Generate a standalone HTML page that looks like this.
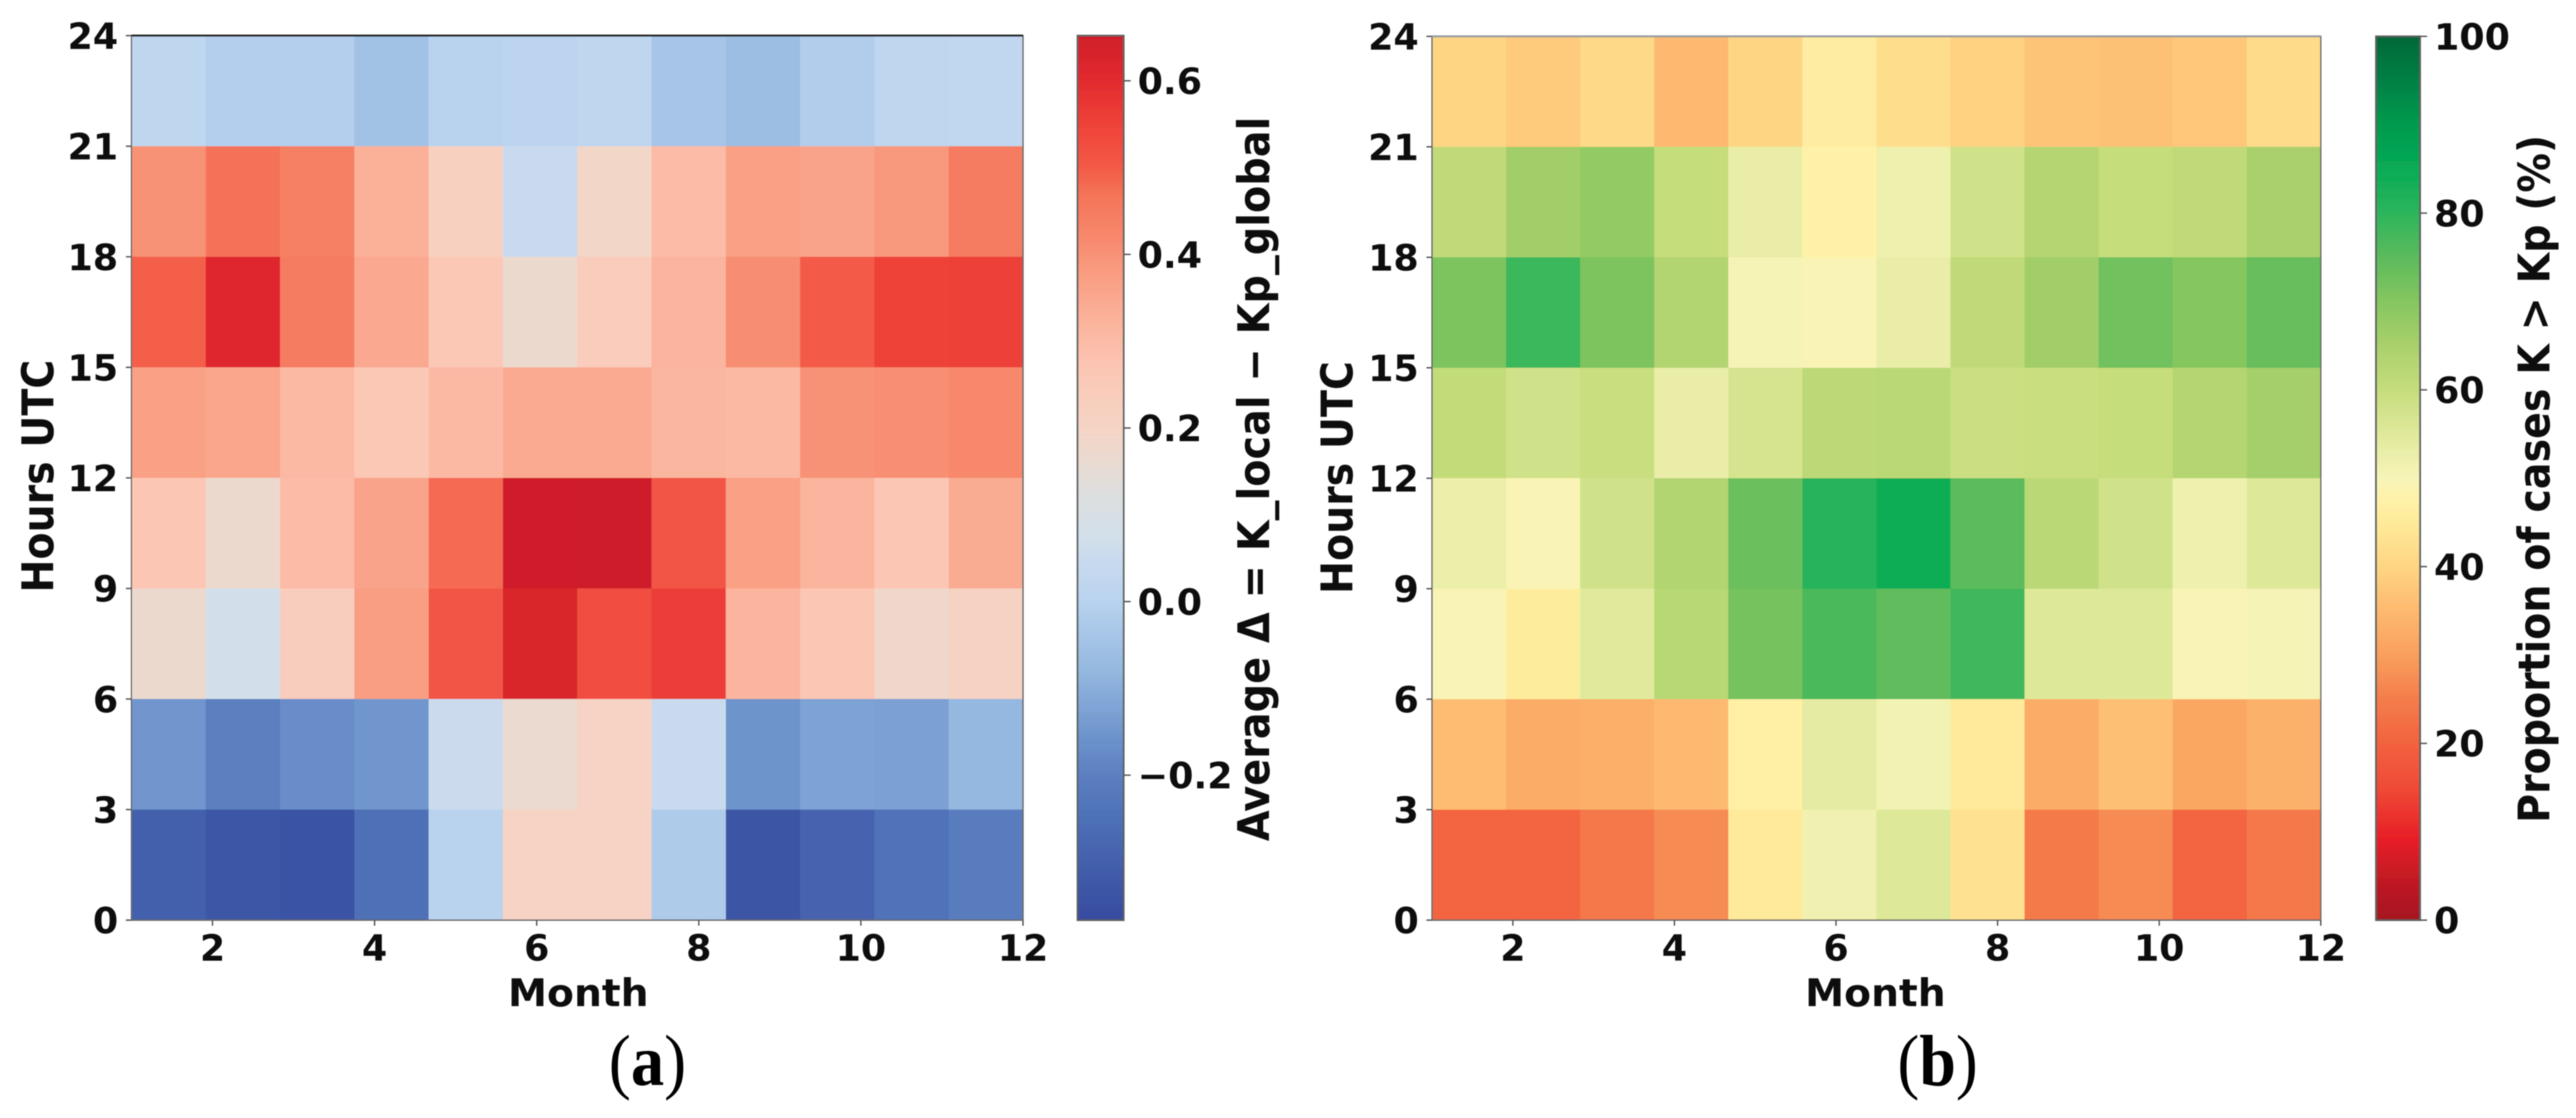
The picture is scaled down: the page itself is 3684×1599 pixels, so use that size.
<!DOCTYPE html>
<html lang="en">
<head>
<meta charset="utf-8">
<title>Heatmaps of K_local vs Kp_global by month and hour</title>
<style>
html,body{margin:0;padding:0;background:#fff;width:3684px;height:1599px;overflow:hidden}
svg{display:block}
text{font-family:"DejaVu Sans",sans-serif;font-weight:bold;fill:#0a0a0a}
.cap,.cap tspan{font-family:"Liberation Serif",serif;fill:#000}
</style>
</head>
<body>
<svg id="fig" xmlns="http://www.w3.org/2000/svg" width="3684" height="1599" viewBox="0 0 3684 1599">
<defs><filter id="soft" x="-5%" y="-5%" width="110%" height="110%"><feGaussianBlur stdDeviation="0.9"/></filter></defs>
<rect width="3684" height="1599" fill="#fff"/>
<g id="root" filter="url(#soft)"></g>
</svg>
<script>
// Rows run from the top of the chart (21-24 UTC) to the bottom (0-3 UTC); columns January to December.
const hourBinsTopDown = ['21-24','18-21','15-18','12-15','9-12','6-9','3-6','0-3'];
const monthTicks = [2,4,6,8,10,12];
const hourTicks = [0,3,6,9,12,15,18,21,24];

const deltaValues = [
 [.02,-.01,-.01,-.05,0,.01,.02,-.04,-.06,-.015,.02,.025],
 [.40,.47,.44,.33,.22,.05,.19,.30,.37,.36,.385,.45],
 [.495,.61,.45,.35,.26,.17,.24,.32,.41,.5,.55,.555],
 [.37,.355,.31,.26,.305,.345,.345,.315,.31,.40,.405,.42],
 [.27,.17,.3,.36,.48,.65,.652,.51,.37,.32,.27,.34],
 [.17,.07,.235,.375,.51,.625,.525,.56,.32,.27,.18,.21],
 [-.15,-.2,-.17,-.15,.055,.165,.205,.05,-.155,-.125,-.13,-.08],
 [-.3,-.33,-.345,-.255,0,.205,.205,-.02,-.335,-.29,-.245,-.21]
];
const deltaTicks = [-0.2,0,0.2,0.4,0.6];
const deltaTickLabels = ['\u22120.2','0.0','0.2','0.4','0.6'];

const proportionValues = [
 [40,38,41,35,40,46,42,39.5,37,36.5,37.5,41.5],
 [61,66,68,60,53,47.5,52,58,63,60,61,65],
 [71,78.5,71,63.5,50.5,49.5,53,61,66,72.5,70,73.5],
 [60.5,58,59.5,53,57,61.5,62,59,59.5,60,63,65.5],
 [52.5,49.5,58,63.5,73,81,84,75,62,58,52,55.5],
 [49.5,45.5,55,62.5,72,77,74.5,78,55.5,55.5,49.5,50.5],
 [35.5,32.5,33,35,47,54,51,45,32.5,36,31.5,33.5],
 [20.5,20.5,24,27,45,51.5,55.5,43,24.5,27,20.5,24]
];
const proportionTicks = [0,20,40,60,80,100];
const proportionTickLabels = ['0','20','40','60','80','100'];

// Colour ramps: [value, colour]
const deltaRamp = [[-.367,'#384ba0'],[-.33,'#3d56a6'],[-.25,'#4e71b7'],[-.2,'#5c7fc0'],[-.15,'#7096cd'],[-.08,'#95b8e0'],[-.02,'#aecbea'],[0,'#b9d3ef'],[.05,'#c9daee'],[.07,'#d2dfeb'],[.12,'#dcdfdf'],[.17,'#ecd9ce'],[.2,'#f5d4c5'],[.27,'#fcc6b4'],[.32,'#fbb49d'],[.37,'#f9a085'],[.42,'#f7886c'],[.47,'#f47358'],[.5,'#f35a47'],[.55,'#ee4239'],[.6,'#e32a2e'],[.652,'#cf1f2a']];
const proportionRamp = [[0,'#a5141f'],[5,'#c41a24'],[9,'#e71d27'],[15,'#ef4b36'],[20,'#f2623f'],[25,'#f47d4b'],[30,'#f99f5d'],[35,'#fdb96f'],[40,'#fed583'],[45,'#feea9a'],[47.5,'#fff2a8'],[50,'#f7f4b8'],[55,'#e0e99c'],[60,'#c6dd7c'],[65,'#a9d06c'],[70,'#85c65f'],[75,'#5cbb5c'],[80,'#2db55c'],[85,'#08ab55'],[90,'#019a4e'],[95,'#008044'],[100,'#006838']];

const NS = 'http://www.w3.org/2000/svg';
const root = document.getElementById('root');

function make(tag, attrs, parent) {
  const el = document.createElementNS(NS, tag);
  for (const k in attrs) el.setAttribute(k, attrs[k]);
  (parent || root).appendChild(el);
  return el;
}
function hex(c){return [1,3,5].map(i=>parseInt(c.substr(i,2),16));}
function colorFor(ramp, v){
  if (v <= ramp[0][0]) return ramp[0][1];
  for (let i = 1; i < ramp.length; i++) {
    if (v <= ramp[i][0]) {
      const t = (v - ramp[i-1][0]) / (ramp[i][0] - ramp[i-1][0]);
      const a = hex(ramp[i-1][1]), b = hex(ramp[i][1]);
      return 'rgb(' + a.map((x,j)=>Math.round(x + (b[j]-x)*t)).join(',') + ')';
    }
  }
  return ramp[ramp.length-1][1];
}
function label(str, x, y, anchor, name, size, rotate, length) {
  const attrs = {x:x, y:y, 'text-anchor':anchor, 'font-size':size};
  if (rotate) attrs.transform = 'rotate(-90 ' + x + ' ' + y + ')';
  if (length) { attrs.textLength = length; attrs.lengthAdjust = 'spacingAndGlyphs'; }
  const t = make('text', attrs);
  t.textContent = str;
  
  
  return t;
}

function drawPanel(p) {
  const xScale = m => p.left + (m - 1) / 11 * (p.right - p.left);
  const yScale = h => p.bottom - h / 24 * (p.bottom - p.top);
  const barScale = v => p.bottom - (v - p.vmin) / (p.vmax - p.vmin) * (p.bottom - p.top);
  const cellW = (p.right - p.left) / p.values[0].length;
  const cellH = (p.bottom - p.top) / p.values.length;

  const g = make('g', {});
  
  

  p.values.forEach((row, r) => row.forEach((v, c) => {
    const cell = make('rect', {x:p.left + c*cellW, y:p.top + r*cellH, width:cellW + .5, height:cellH + .5, fill:colorFor(p.ramp, v)}, g);
    
    
  }));

  const frame = make('rect', {x:p.left, y:p.top, width:p.right-p.left, height:p.bottom-p.top, fill:'none', stroke:'#6a6a6a', 'stroke-width':2});
  
  
  const topSpine = make('line', {x1:p.left, x2:p.right, y1:p.top, y2:p.top, stroke:p.topSpine, 'stroke-width':3});
  
  

  monthTicks.forEach(m => {
    const x = xScale(m);
    const t = make('line', {x1:x, x2:x, y1:p.bottom, y2:p.bottom+8, stroke:'#555', 'stroke-width':2});
    
    
    label(String(m), x, 1374, 'middle', p.id + '-x-tick-label-' + m, 52);
  });
  hourTicks.forEach(h => {
    const y = yScale(h);
    const t = make('line', {x1:p.left-8, x2:p.left, y1:y, y2:y, stroke:'#555', 'stroke-width':2});
    
    
    label(String(h), p.left-19, y+19, 'end', p.id + '-y-tick-label-' + h, 52);
  });

  label('Month', p.monthX, 1439, 'middle', p.id + '-x-axis-title', 54, false, 201);
  label('Hours UTC', p.yTitleX, p.yTitleY, 'middle', p.id + '-y-axis-title', 62, true, 333);

  const bar = make('g', {});
  
  
  const steps = 256;
  const stepH = (p.bottom - p.top) / steps;
  for (let i = 0; i < steps; i++) {
    const v = p.vmax - (i + .5) / steps * (p.vmax - p.vmin);
    const s = make('rect', {x:p.barLeft, y:p.top + i*stepH, width:p.barRight-p.barLeft, height:stepH+.6, fill:colorFor(p.ramp, v)}, bar);
    
    
  }
  const bf = make('rect', {x:p.barLeft, y:p.top, width:p.barRight-p.barLeft, height:p.bottom-p.top, fill:'none', stroke:'#5a5f5f', 'stroke-width':2.5}, bar);
  
  

  p.ticks.forEach((v, i) => {
    const y = barScale(v);
    const t = make('line', {x1:p.barRight, x2:p.barRight+10, y1:y, y2:y, stroke:'#555', 'stroke-width':2});
    
    
    label(p.tickLabels[i], p.barRight+20, y+19, 'start', p.id + '-colorbar-tick-label-' + i, 52);
  });

  label(p.barTitle, p.barTitleX, p.barTitleY, 'middle', p.id + '-colorbar-title', 62, true, p.barTitleLen);

  const cap = make('text', {x:p.capX, y:1552, 'text-anchor':'middle', 'font-size':104, textLength:p.capLen, lengthAdjust:'spacingAndGlyphs', class:'cap', style:'font-weight:normal'});
  
  
  const open = make('tspan', {style:'font-weight:normal'}, cap); open.textContent = '(';
  const mid = make('tspan', {style:'font-weight:bold'}, cap); mid.textContent = p.capLetter;
  const close = make('tspan', {style:'font-weight:normal'}, cap); close.textContent = ')';
}

drawPanel({
  id:'panel-a', values:deltaValues, ramp:deltaRamp, vmin:-.367, vmax:.652,
  ticks:deltaTicks, tickLabels:deltaTickLabels,
  left:188, right:1463, top:51, bottom:1316, topSpine:'#222',
  barLeft:1541, barRight:1607,
  monthX:827, yTitleX:76, yTitleY:681,
  barTitle:'Average \u0394 = K_local \u2212 Kp_global', barTitleX:1815, barTitleY:685, barTitleLen:1036,
  capX:926, capLen:111, capLetter:'a'
});
drawPanel({
  id:'panel-b', values:proportionValues, ramp:proportionRamp, vmin:0, vmax:100,
  ticks:proportionTicks, tickLabels:proportionTickLabels,
  left:2048, right:3319, top:52, bottom:1316, topSpine:'#9a9fa3',
  barLeft:3398, barRight:3461,
  monthX:2682, yTitleX:1934, yTitleY:683,
  barTitle:'Proportion of cases K > Kp (%)', barTitleX:3646, barTitleY:685, barTitleLen:984,
  capX:2771, capLen:115, capLetter:'b'
});
</script>
</body>
</html>
